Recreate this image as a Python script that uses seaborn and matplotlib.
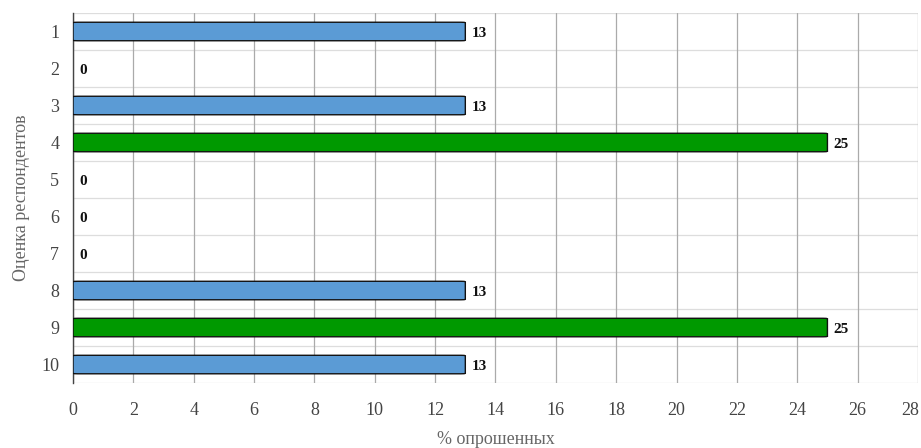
import matplotlib
matplotlib.use('Agg')
import matplotlib.pyplot as plt
import matplotlib.transforms as mtransforms
import seaborn as sns
import pandas as pd
from matplotlib.patches import FancyBboxPatch

scores = ['1', '2', '3', '4', '5', '6', '7', '8', '9', '10']
percent = [13, 0, 13, 25, 0, 0, 0, 13, 25, 13]
bar_colors = ['#5b9bd5', '#5b9bd5', '#5b9bd5', '#009900', '#5b9bd5',
              '#5b9bd5', '#5b9bd5', '#5b9bd5', '#009900', '#5b9bd5']

df = pd.DataFrame({'score': scores, 'percent': percent})

sns.set_style('white')
plt.rcParams['font.family'] = ['Liberation Serif', 'DejaVu Serif']

fig = plt.figure(figsize=(9.21, 4.48), dpi=100)
ax = fig.add_axes([0.0793, 0.145, 0.9174, 0.826])

sns.barplot(data=df, y='score', x='percent', hue='score', palette=bar_colors,
            saturation=1, legend=False, width=0.5, orient='h', ax=ax)

# swap plain rectangles for rounded ones
for p in list(ax.patches):
    x, y = p.get_x(), p.get_y()
    w, h = p.get_width(), p.get_height()
    c = p.get_facecolor()
    p.remove()
    if w <= 0:
        continue
    ax.add_patch(FancyBboxPatch((x, y), w, h, boxstyle='round,pad=0,rounding_size=0.15',
                                mutation_aspect=0.08, facecolor=c, edgecolor='#111111',
                                linewidth=1.0, zorder=3))

for i, v in enumerate(percent):
    ax.text(v + 0.2, i + 0.05, str(v), va='center', ha='left', fontsize=11,
            fontweight='bold', color='#111111', zorder=4)

ax.set_xlim(0, 28)
ax.set_ylim(9.5, -0.5)
ax.set_xticks(range(0, 29, 2))
for b in [i + 0.5 for i in range(-1, 10)]:
    ax.axhline(b, color='#dddddd', lw=0.9, zorder=0)
ax.grid(axis='x', color='#aaaaaa', lw=0.9, zorder=0)
ax.set_axisbelow(True)

for s in ['top', 'right', 'bottom']:
    ax.spines[s].set_visible(False)
ax.spines['left'].set_color('#444444')
ax.spines['left'].set_linewidth(1.0)

ax.tick_params(axis='both', length=0, labelsize=13, labelcolor='#444444')
ax.tick_params(axis='x', pad=14)
ax.tick_params(axis='y', pad=10)
ax.set_xlabel('% опрошенных', fontsize=13, color='#666666', labelpad=8)
ax.set_ylabel('Оценка респондентов', fontsize=13, color='#666666', labelpad=8)

last = ax.get_xticklabels()[-1]
last.set_transform(last.get_transform() + mtransforms.ScaledTranslation(-8 / 100, 0, fig.dpi_scale_trans))

plt.savefig('out.png', dpi=100)
